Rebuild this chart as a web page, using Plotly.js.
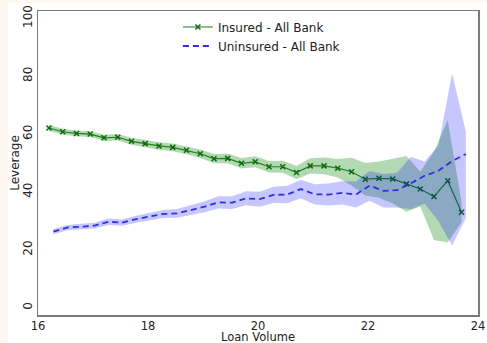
<!DOCTYPE html>
<html>
<head>
<meta charset="utf-8">
<script src="https://cdn.plot.ly/plotly-3.0.1.min.js"></script>
<style>
  html, body { margin: 0; padding: 0; background: #fdf9f0; width: 487px; height: 343px; overflow: hidden; }
  #chart { position: absolute; left: 8px; top: 3px; width: 479px; height: 340px; background: #ffffff; }
</style>
</head>
<body>
<div id="chart"></div>
<script>
// Insured - All Bank
const insuredX = [16.2, 16.45, 16.7, 16.95, 17.2, 17.45, 17.7, 17.95, 18.2, 18.45, 18.7, 18.95, 19.2, 19.45, 19.7, 19.95,
  20.2, 20.45, 20.7, 20.95, 21.2, 21.45, 21.7, 21.95, 22.2, 22.45, 22.7, 22.95, 23.2, 23.45, 23.7];
const insuredY = [62.1, 60.8, 60.2, 60.0, 58.7, 58.9, 57.5, 56.7, 55.9, 55.4, 54.4, 53.2, 51.5, 51.6, 49.9, 50.4,
  48.7, 48.7, 46.7, 49.0, 49.0, 48.2, 47.0, 44.4, 44.7, 44.5, 42.8, 41.0, 38.4, 43.9, 33.0];
const insuredUpper = [63.1, 61.8, 61.2, 61.0, 59.8, 60.0, 58.7, 57.9, 57.2, 56.7, 55.8, 54.7, 53.1, 53.3, 51.7, 52.3,
  50.7, 50.8, 49.0, 51.6, 51.9, 51.4, 51.8, 50.0, 50.5, 51.4, 52.4, 47.0, 54.0, 64.8, 36.5];
const insuredLower = [61.1, 59.8, 59.2, 59.0, 57.6, 57.8, 56.3, 55.5, 54.6, 54.1, 53.0, 51.7, 49.9, 49.9, 48.1, 48.5,
  46.7, 46.6, 44.4, 46.4, 46.1, 45.0, 42.2, 38.8, 38.0, 36.0, 33.2, 35.0, 23.4, 22.5, 29.5];

// Uninsured - All Bank
const uninsuredX = [16.28, 16.53, 16.78, 17.03, 17.28, 17.53, 17.78, 18.03, 18.28, 18.53, 18.78, 19.03, 19.28, 19.53, 19.78, 20.03,
  20.28, 20.53, 20.78, 21.03, 21.28, 21.53, 21.78, 22.03, 22.28, 22.53, 22.78, 23.03, 23.28, 23.53, 23.78];
const uninsuredY = [26.3, 27.7, 28.0, 28.4, 29.7, 29.4, 30.6, 31.5, 32.4, 32.6, 33.8, 34.9, 36.4, 36.3, 37.8, 37.5,
  39.0, 39.1, 41.0, 39.2, 39.1, 39.7, 39.1, 42.2, 40.4, 40.6, 43.0, 45.6, 47.3, 50.7, 53.1];
const uninsuredUpper = [27.2, 28.6, 29.0, 29.4, 30.8, 30.5, 31.8, 32.8, 33.8, 34.1, 35.5, 36.8, 38.5, 38.5, 40.2, 40.1,
  41.8, 42.1, 44.2, 42.7, 42.9, 43.7, 43.6, 47.2, 46.2, 46.6, 52.2, 50.5, 56.0, 81.0, 60.8];
const uninsuredLower = [25.4, 26.8, 27.0, 27.4, 28.6, 28.3, 29.4, 30.2, 31.0, 31.1, 32.1, 33.0, 34.3, 34.1, 35.4, 34.9,
  36.2, 36.1, 37.8, 35.7, 35.3, 35.7, 34.6, 37.0, 34.6, 34.6, 34.0, 36.0, 30.0, 21.5, 31.0];

const xTicks = [16, 18, 20, 22, 24];
const yTicks = [0, 20, 40, 60, 80, 100];

function band(x, up, lo, color) {
  return {
    x: x.concat(x.slice().reverse()),
    y: up.concat(lo.slice().reverse()),
    type: 'scatter', mode: 'lines', fill: 'toself',
    fillcolor: color, line: {width: 0, color: 'rgba(0,0,0,0)'},
    hoverinfo: 'skip', showlegend: false
  };
}

const traces = [
  band(insuredX, insuredUpper, insuredLower, 'rgba(0,128,0,0.3)'),
  {
    x: insuredX, y: insuredY, type: 'scatter', mode: 'lines+markers',
    name: 'Insured - All Bank',
    line: {color: '#1f7f1f', width: 1.2},
    marker: {symbol: 'x-thin', size: 5, line: {color: '#0d6b0d', width: 1.5}, color: '#0d6b0d'}
  },
  band(uninsuredX, uninsuredUpper, uninsuredLower, 'rgba(0,0,255,0.22)'),
  {
    x: uninsuredX, y: uninsuredY, type: 'scatter', mode: 'lines',
    name: 'Uninsured - All Bank',
    line: {color: '#3030e0', width: 1.8, dash: '6px,4px'}
  }
];

const axisFont = {family: 'DejaVu Sans', size: 12, color: '#222'};
const xTickFont = {family: 'DejaVu Sans', size: 11.5, color: '#222'};

const layout = {
  width: 479, height: 340,
  margin: {l: 30, r: 9, t: 7.5, b: 28, pad: 0},
  paper_bgcolor: '#ffffff', plot_bgcolor: '#ffffff',
  font: axisFont,
  showlegend: true,
  legend: {
    x: 0.318, y: 0.995, xanchor: 'left', yanchor: 'top',
    bgcolor: 'rgba(255,255,255,0)', borderwidth: 0,
    font: {family: 'DejaVu Sans', size: 12, color: '#222'},
    tracegroupgap: 0, itemwidth: 30
  },
  xaxis: {
    range: [16, 24], tickvals: xTicks, ticktext: xTicks.map(String),
    showgrid: false, zeroline: false, showline: true, mirror: true,
    linecolor: '#7a7a7a', linewidth: 1.5, ticks: '', tickfont: xTickFont
  },
  yaxis: {
    range: [-2.5, 102.5], tickvals: yTicks, ticktext: yTicks.map(String),
    showgrid: false, zeroline: false, showline: true, mirror: true,
    linecolor: '#7a7a7a', linewidth: 1.5, ticks: '', tickangle: -90, tickfont: axisFont,
    title: {text: 'Leverage', font: axisFont, standoff: 4}
  },
  annotations: [{
    text: 'Loan Volume', xref: 'paper', yref: 'paper', x: 0.5, y: -0.0975,
    xanchor: 'center', yanchor: 'bottom', showarrow: false, borderpad: 0,
    font: {family: 'DejaVu Sans', size: 11.5, color: '#222'}
  }]
};

Plotly.newPlot('chart', traces, layout, {displayModeBar: false, staticPlot: true});
</script>
</body>
</html>
